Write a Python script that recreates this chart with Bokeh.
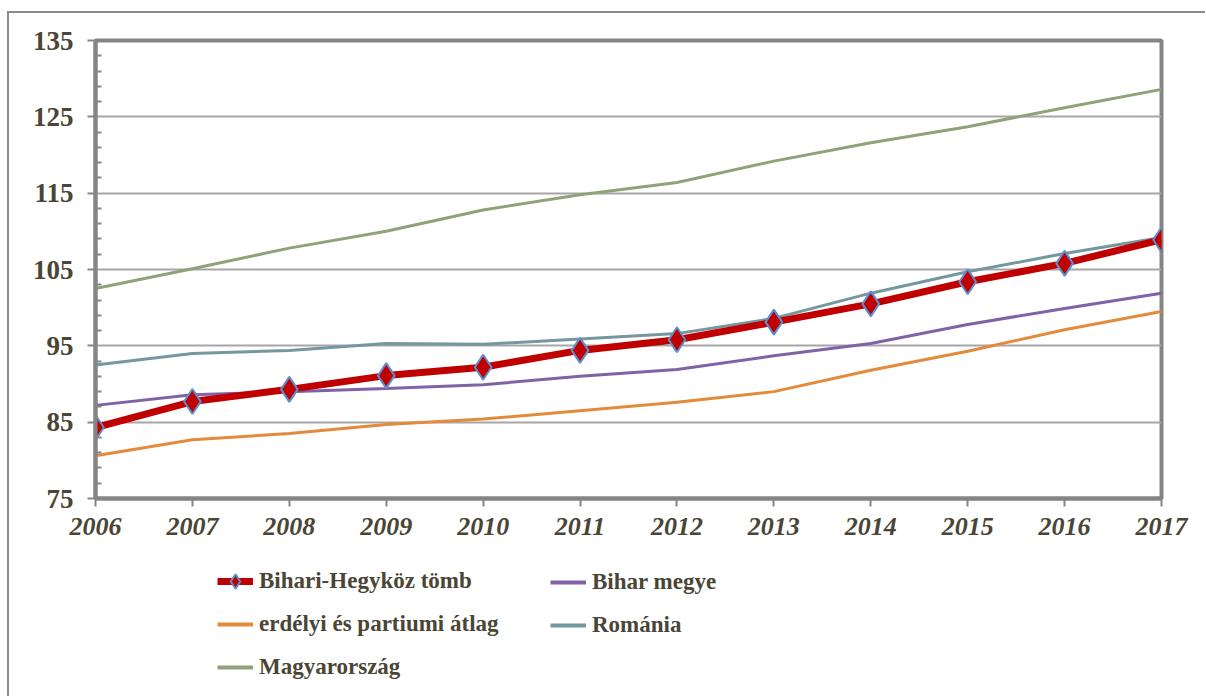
from bokeh.plotting import figure
from bokeh.layouts import column
from bokeh.models import Legend, LegendItem, FixedTicker, Range1d
from bokeh.embed import file_html
from bokeh.resources import INLINE

years = list(range(2006, 2018))
bihari_hegykoz = [84.3, 87.7, 89.3, 91.1, 92.2, 94.4, 95.8, 98.1, 100.5, 103.4, 105.8, 108.9]
bihar_megye = [87.2, 88.6, 89.0, 89.4, 89.9, 91.0, 91.9, 93.7, 95.3, 97.8, 99.9, 101.9]
erdelyi_partiumi = [80.6, 82.7, 83.5, 84.7, 85.4, 86.5, 87.6, 89.0, 91.8, 94.3, 97.1, 99.5]
romania = [92.5, 94.0, 94.4, 95.3, 95.2, 95.9, 96.6, 98.6, 101.9, 104.7, 107.1, 109.2]
magyarorszag = [102.5, 105.1, 107.8, 110.0, 112.8, 114.8, 116.4, 119.2, 121.6, 123.7, 126.2, 128.6]
y_ticks = [75, 85, 95, 105, 115, 125, 135]

labels = ["Bihari-Hegyköz tömb", "Bihar megye", "erdélyi és partiumi átlag", "Románia", "Magyarország"]
colors = {"bh": "#c00000", "bm": "#8062a6", "er": "#e38a3b", "ro": "#75979f", "hu": "#8fa279"}

TXT = "#4a4534"
AX = "#858585"

p = figure(width=1196, height=535, output_backend="svg", toolbar_location=None,
           x_range=Range1d(2006, 2017), y_range=Range1d(75, 135),
           min_border_left=86, min_border_right=44, min_border_top=27, min_border_bottom=50)

p.outline_line_color = AX
p.outline_line_width = 4
p.xgrid.visible = False
p.ygrid.grid_line_color = "#a6a6a6"
p.ygrid.grid_line_width = 2
p.ygrid.ticker = FixedTicker(ticks=y_ticks)

minor = [t for t in range(75, 136) if (t - 75) % 2 == 0 and (t - 75) % 10 != 0]
p.yaxis.ticker = FixedTicker(ticks=y_ticks, minor_ticks=minor)
p.yaxis.axis_line_color = AX
p.yaxis.axis_line_width = 4
p.yaxis.major_tick_line_color = AX
p.yaxis.major_tick_line_width = 2
p.yaxis.major_tick_out = 8
p.yaxis.major_tick_in = 0
p.yaxis.minor_tick_line_color = AX
p.yaxis.minor_tick_line_width = 2
p.yaxis.minor_tick_in = 6
p.yaxis.minor_tick_out = 0
p.yaxis.major_label_text_font = "Liberation Serif"
p.yaxis.major_label_text_font_style = "bold"
p.yaxis.major_label_text_font_size = "27px"
p.yaxis.major_label_text_color = TXT
p.yaxis.major_label_standoff = 14

p.xaxis.ticker = FixedTicker(ticks=years, minor_ticks=[])
p.xaxis.axis_line_color = AX
p.xaxis.axis_line_width = 4
p.xaxis.major_tick_line_color = AX
p.xaxis.major_tick_line_width = 2
p.xaxis.major_tick_out = 8
p.xaxis.major_tick_in = 0
p.xaxis.minor_tick_line_color = None
p.xaxis.major_label_text_font = "Liberation Serif"
p.xaxis.major_label_text_font_style = "bold italic"
p.xaxis.major_label_text_font_size = "26px"
p.xaxis.major_label_text_color = TXT
p.xaxis.major_label_standoff = 11

p.line(years, magyarorszag, line_color=colors["hu"], line_width=3)
p.line(years, erdelyi_partiumi, line_color=colors["er"], line_width=3)
p.line(years, bihar_megye, line_color=colors["bm"], line_width=3)
p.line(years, romania, line_color=colors["ro"], line_width=3)
p.line(years, bihari_hegykoz, line_color=colors["bh"], line_width=7)
p.scatter(years, bihari_hegykoz, marker="diamond", size=25,
          fill_color=colors["bh"], line_color="#5b8fcf", line_width=2)

# legend panel below the chart
q = figure(width=1196, height=148, output_backend="svg", toolbar_location=None,
           x_range=Range1d(0, 1), y_range=Range1d(0, 1),
           min_border=0, outline_line_color=None)
q.axis.visible = False
q.grid.visible = False

off = [5, 6]
g_bh = q.line(off, off, line_color=colors["bh"], line_width=7)
g_bhm = q.scatter(off, off, marker="diamond", size=22, fill_color=colors["bh"], line_color="#5b8fcf", line_width=2)
g_bm = q.line(off, off, line_color=colors["bm"], line_width=4)
g_er = q.line(off, off, line_color=colors["er"], line_width=4)
g_ro = q.line(off, off, line_color=colors["ro"], line_width=4)
g_hu = q.line(off, off, line_color=colors["hu"], line_width=4)

def mk_legend(items, loc):
    lg = Legend(items=items, location=loc, orientation="vertical",
                background_fill_alpha=0, border_line_alpha=0,
                padding=0, margin=0, spacing=3,
                glyph_width=36, glyph_height=40, label_height=40,
                label_standoff=6,
                label_text_font="Liberation Serif", label_text_font_style="bold",
                label_text_font_size="23px", label_text_color=TXT)
    q.add_layout(lg, "center")

mk_legend([LegendItem(label=labels[0], renderers=[g_bh, g_bhm]),
           LegendItem(label=labels[2], renderers=[g_er]),
           LegendItem(label=labels[4], renderers=[g_hu])], (122, 9))
mk_legend([LegendItem(label=labels[1], renderers=[g_bm]),
           LegendItem(label=labels[3], renderers=[g_ro])], (455, 51))

layout = column(p, q, spacing=0)
layout.styles = {"margin-left": "7px", "margin-top": "11px",
                 "border-left": "2px solid #8c8c8c", "border-top": "2px solid #8c8c8c"}

open("out.html", "w").write(file_html(layout, INLINE))
